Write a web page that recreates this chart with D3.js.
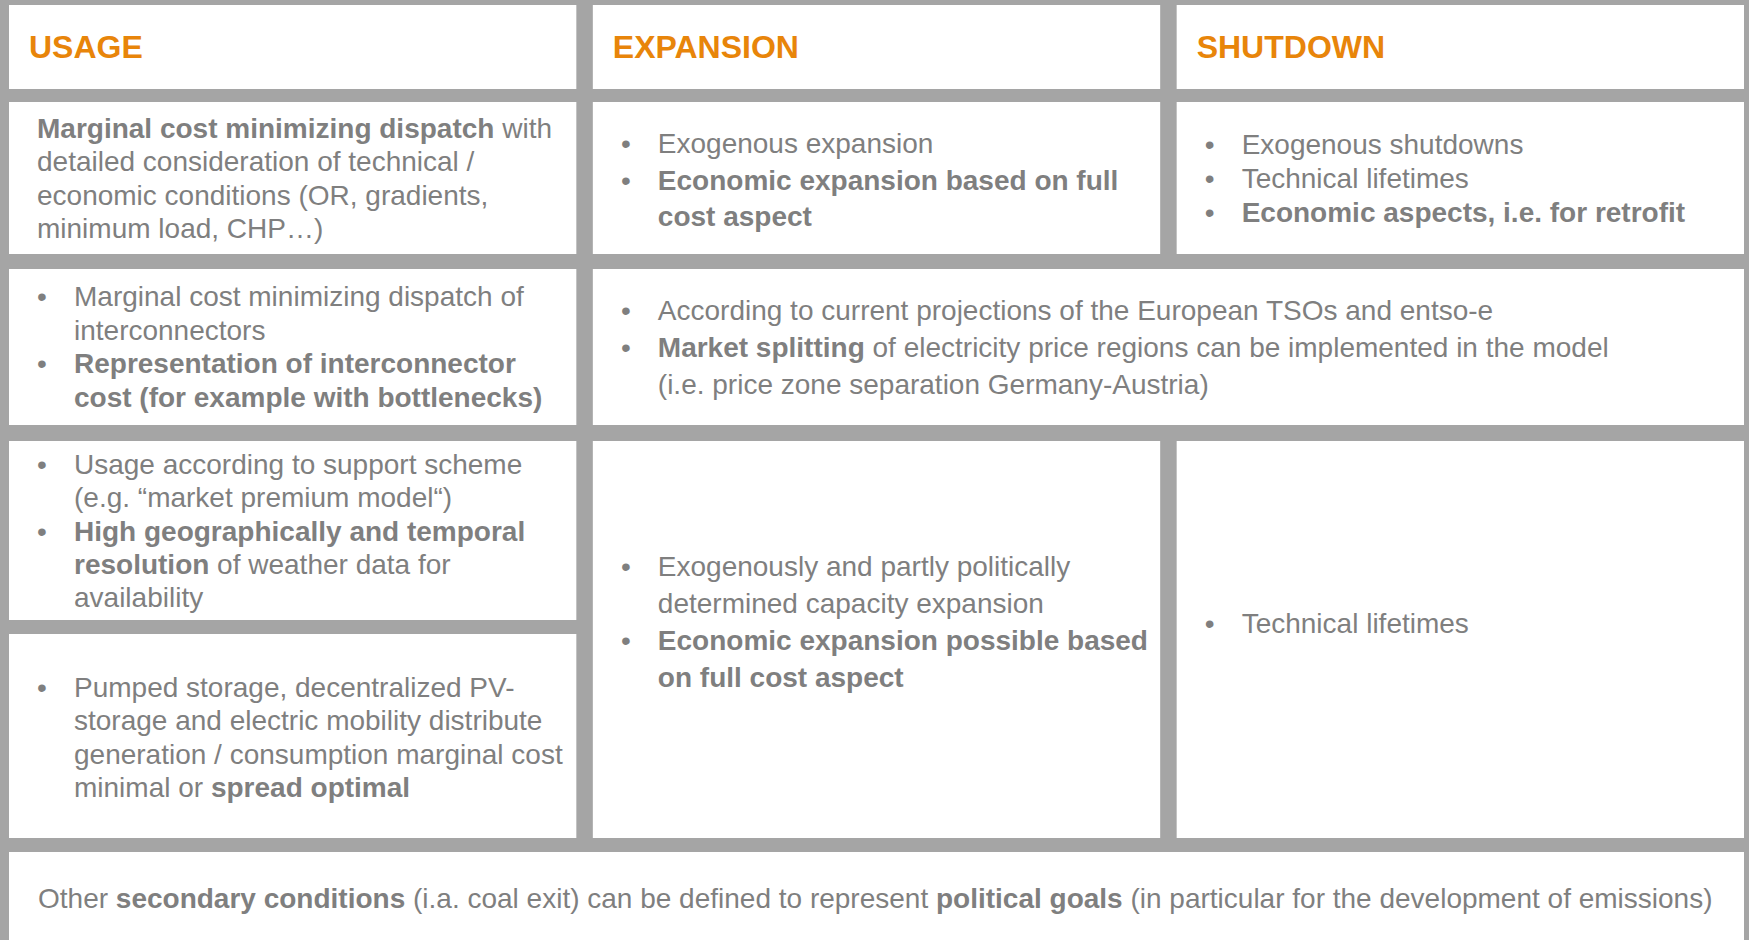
<!DOCTYPE html>
<html><head><meta charset="utf-8">
<script src="https://cdn.jsdelivr.net/npm/d3@7/dist/d3.min.js"></script>
<style>html,body{margin:0;padding:0;background:#a5a5a5;overflow:hidden}</style>
</head><body><svg id="chart" width="1749" height="940"></svg>
<script>
// ---------------- data ----------------
const columns = [0, 1, 2];
const headers = ["USAGE", "EXPANSION", "SHUTDOWN"];

// "**...**" marks bold text; each paragraph is a list of lines
const usagePlants = [[
  "**Marginal cost minimizing dispatch** with",
  "detailed consideration of technical /",
  "economic conditions (OR, gradients,",
  "minimum load, CHP…)"
]];
const expansionPlants = [
  ["Exogenous expansion"],
  ["**Economic expansion based on full**", "**cost aspect**"]
];
const shutdownPlants = [
  ["Exogenous shutdowns"],
  ["Technical lifetimes"],
  ["**Economic aspects, i.e. for retrofit**"]
];
const usageGrid = [
  ["Marginal cost minimizing dispatch of", "interconnectors"],
  ["**Representation of interconnector**", "**cost (for example with bottlenecks)**"]
];
const expansionGrid = [
  ["According to current projections of the European TSOs and entso-e"],
  ["**Market splitting** of electricity price regions can be implemented in the model",
   "(i.e. price zone separation Germany-Austria)"]
];
const usageRenewables = [
  ["Usage according to support scheme", "(e.g. “market premium model“)"],
  ["**High geographically and temporal**", "**resolution** of weather data for", "availability"]
];
const usageStorage = [
  ["Pumped storage, decentralized PV-", "storage and electric mobility distribute",
   "generation / consumption marginal cost", "minimal or **spread optimal**"]
];
const expansionRenewables = [
  ["Exogenously and partly politically", "determined capacity expansion"],
  ["**Economic expansion possible based**", "**on full cost aspect**"]
];
const shutdownRenewables = [
  ["Technical lifetimes"]
];
const footerNote = [[
  "Other **secondary conditions** (i.a. coal exit) can be defined to represent **political goals** (in particular for the development of emissions)"
]];

const cells = [
  {key: "usagePlants", col: 0, colSpan: 1, row: 1, rowSpan: 1, bullet: false, paras: usagePlants},
  {key: "expansionPlants", col: 1, colSpan: 1, row: 1, rowSpan: 1, bullet: true, paras: expansionPlants},
  {key: "shutdownPlants", col: 2, colSpan: 1, row: 1, rowSpan: 1, bullet: true, paras: shutdownPlants},
  {key: "usageGrid", col: 0, colSpan: 1, row: 2, rowSpan: 1, bullet: true, paras: usageGrid},
  {key: "expansionGrid", col: 1, colSpan: 2, row: 2, rowSpan: 1, bullet: true, paras: expansionGrid},
  {key: "usageRenewables", col: 0, colSpan: 1, row: 3, rowSpan: 1, bullet: true, paras: usageRenewables},
  {key: "usageStorage", col: 0, colSpan: 1, row: 4, rowSpan: 1, bullet: true, paras: usageStorage},
  {key: "expansionRenewables", col: 1, colSpan: 1, row: 3, rowSpan: 2, bullet: true, paras: expansionRenewables},
  {key: "shutdownRenewables", col: 2, colSpan: 1, row: 3, rowSpan: 2, bullet: true, paras: shutdownRenewables},
  {key: "footer", col: 0, colSpan: 3, row: 5, rowSpan: 1, bullet: false, paras: footerNote}
];

// ---------------- layout / style ----------------
const W = 1749, H = 940;
const C = {bg: "#a5a5a5", cell: "#ffffff", text: "#7f7f7f", head: "#e8850a"};
const FONT = "'Liberation Sans', Arial, Helvetica, sans-serif";
const FS = 28, HFS = 32, CAP = 0.716;
const rowEdges = [[5, 89], [102, 254], [269, 425], [441, 620], [634, 838], [852, 943]];
const cellStyle = {
  usagePlants: {lh: 33.6, dy: 0, pad: 28},
  expansionPlants: {lh: 36.5, dy: 1.5},
  shutdownPlants: {lh: 33.6, dy: 0},
  usageGrid: {lh: 33.6, dy: -0.5},
  expansionGrid: {lh: 36.7, dy: 0},
  usageRenewables: {lh: 33.4, dy: 0},
  usageStorage: {lh: 33.4, dy: 1},
  expansionRenewables: {lh: 36.7, dy: -18},
  shutdownRenewables: {lh: 33.6, dy: -17},
  footer: {lh: 33.6, dy: 0, pad: 29}
};
const BULLET_X = 33, TEXT_X = 65, HEAD_X = 20;

const x = d3.scaleBand().domain(columns).range([9, 1744]).paddingInner(16.5 / 584);
const rowTop = r => rowEdges[r][0];
const rowBottom = r => rowEdges[r][1];

const svg = d3.select("#chart").attr("viewBox", `0 0 ${W} ${H}`);
svg.append("rect").attr("width", W).attr("height", H).attr("fill", C.bg);

// header cells
const hg = svg.append("g").selectAll("g").data(headers).join("g");
hg.append("rect")
  .attr("x", (d, i) => x(i)).attr("y", rowTop(0))
  .attr("width", x.bandwidth()).attr("height", rowBottom(0) - rowTop(0))
  .attr("fill", C.cell);
hg.append("text")
  .attr("x", (d, i) => x(i) + HEAD_X)
  .attr("y", (rowTop(0) + rowBottom(0)) / 2 + HFS * CAP / 2)
  .attr("font-family", FONT).attr("font-size", HFS).attr("font-weight", "bold")
  .attr("fill", C.head).text(d => d);

function segments(line) {
  return line.split("**").map((t, i) => ({t, b: i % 2 === 1})).filter(s => s.t.length);
}

// body cells
const cg = svg.append("g").selectAll("g").data(cells).join("g");
cg.each(function (c) {
  const g = d3.select(this);
  const st = cellStyle[c.key];
  const x0 = x(c.col);
  const x1 = x(c.col + c.colSpan - 1) + x.bandwidth();
  const y0 = rowTop(c.row), y1 = rowBottom(c.row + c.rowSpan - 1);
  g.append("rect").attr("x", x0).attr("y", y0).attr("width", x1 - x0).attr("height", y1 - y0)
    .attr("fill", C.cell);

  const n = d3.sum(c.paras, p => p.length);
  const cap = FS * CAP;
  const first = (y0 + y1) / 2 + st.dy - ((n - 1) * st.lh - cap) / 2;
  const tx = x0 + (c.bullet ? TEXT_X : st.pad);
  let k = 0;
  c.paras.forEach(p => {
    if (c.bullet) {
      g.append("text").attr("x", x0 + BULLET_X).attr("y", first + k * st.lh)
        .attr("text-anchor", "middle")
        .attr("font-family", FONT).attr("font-size", FS).attr("fill", C.text).text("•");
    }
    p.forEach(line => {
      const t = g.append("text").attr("x", tx).attr("y", first + k * st.lh)
        .attr("font-family", FONT).attr("font-size", FS).attr("fill", C.text)
        .attr("xml:space", "preserve").style("white-space", "pre");
      t.selectAll("tspan").data(segments(line)).join("tspan")
        .attr("font-weight", s => s.b ? "bold" : "normal").text(s => s.t);
      k++;
    });
  });
});
</script></body></html>
